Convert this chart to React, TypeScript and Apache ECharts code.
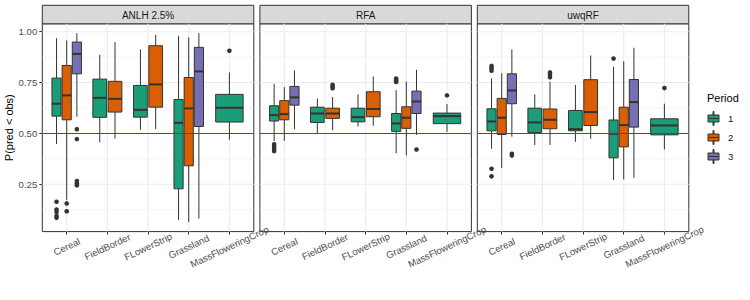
import React, { useEffect, useRef } from "react";
import * as echarts from "echarts";

const panels = ["ANLH 2.5%", "RFA", "uwqRF"];
const categories = ["Cereal", "FieldBorder", "FLowerStrip", "Grassland", "MassFloweringCrop"];
const periods = ["1", "2", "3"];
const periodColors = ["#1B9E77", "#D95F02", "#7570B3"];
const yMajorTicks = [0.25, 0.5, 0.75, 1.0];
const yMinorTicks = [0.125, 0.375, 0.625, 0.875];
const referenceLine = 0.5;

// [category, period, lower whisker, Q1, median, Q3, upper whisker]
const anlhBoxes: [string, string, number, number, number, number, number][] = [
  ["Cereal", "1", 0.448, 0.585, 0.646, 0.772, 0.968],
  ["Cereal", "2", 0.174, 0.567, 0.687, 0.834, 0.957],
  ["Cereal", "3", 0.582, 0.793, 0.891, 0.949, 0.993],
  ["FieldBorder", "1", 0.456, 0.579, 0.675, 0.767, 0.887],
  ["FieldBorder", "2", 0.474, 0.605, 0.67, 0.756, 0.949],
  ["FLowerStrip", "1", 0.518, 0.58, 0.616, 0.736, 0.913],
  ["FLowerStrip", "2", 0.521, 0.629, 0.741, 0.931, 0.985],
  ["Grassland", "1", 0.074, 0.228, 0.552, 0.667, 0.98],
  ["Grassland", "2", 0.064, 0.341, 0.623, 0.775, 0.972],
  ["Grassland", "3", 0.082, 0.534, 0.805, 0.923, 0.993],
  ["MassFloweringCrop", "1", 0.469, 0.556, 0.626, 0.692, 0.8],
];
const anlhOutliers: [string, string, number][] = [
  ["Cereal", "1", 0.164], ["Cereal", "1", 0.126], ["Cereal", "1", 0.114], ["Cereal", "1", 0.094], ["Cereal", "1", 0.085],
  ["Cereal", "2", 0.156], ["Cereal", "2", 0.117],
  ["Cereal", "3", 0.521], ["Cereal", "3", 0.472], ["Cereal", "3", 0.266], ["Cereal", "3", 0.255], ["Cereal", "3", 0.245],
  ["MassFloweringCrop", "1", 0.906],
];

const rfaBoxes: [string, string, number, number, number, number, number][] = [
  ["Cereal", "1", 0.462, 0.561, 0.59, 0.636, 0.744],
  ["Cereal", "2", 0.464, 0.567, 0.595, 0.661, 0.728],
  ["Cereal", "3", 0.521, 0.639, 0.677, 0.731, 0.81],
  ["FieldBorder", "1", 0.502, 0.554, 0.598, 0.629, 0.672],
  ["FieldBorder", "2", 0.516, 0.574, 0.598, 0.624, 0.679],
  ["FLowerStrip", "1", 0.534, 0.557, 0.58, 0.624, 0.692],
  ["FLowerStrip", "2", 0.538, 0.582, 0.62, 0.705, 0.78],
  ["Grassland", "1", 0.402, 0.51, 0.549, 0.598, 0.713],
  ["Grassland", "2", 0.392, 0.525, 0.577, 0.631, 0.755],
  ["Grassland", "3", 0.493, 0.598, 0.657, 0.708, 0.813],
  ["MassFloweringCrop", "1", 0.508, 0.548, 0.585, 0.6, 0.644],
];
const rfaOutliers: [string, string, number][] = [
  ["Cereal", "1", 0.447], ["Cereal", "1", 0.436], ["Cereal", "1", 0.425], ["Cereal", "1", 0.413],
  ["FieldBorder", "2", 0.739], ["FieldBorder", "2", 0.73], ["FieldBorder", "2", 0.722],
  ["Grassland", "1", 0.77], ["Grassland", "1", 0.761], ["Grassland", "1", 0.753],
  ["Grassland", "3", 0.421],
  ["MassFloweringCrop", "1", 0.687],
];

const uwqrfBoxes: [string, string, number, number, number, number, number][] = [
  ["Cereal", "1", 0.425, 0.513, 0.559, 0.621, 0.77],
  ["Cereal", "2", 0.33, 0.495, 0.577, 0.672, 0.796],
  ["Cereal", "3", 0.484, 0.646, 0.711, 0.793, 0.913],
  ["FieldBorder", "1", 0.443, 0.505, 0.554, 0.624, 0.692],
  ["FieldBorder", "2", 0.443, 0.523, 0.567, 0.62, 0.755],
  ["FLowerStrip", "1", 0.459, 0.513, 0.521, 0.613, 0.738],
  ["FLowerStrip", "2", 0.474, 0.539, 0.605, 0.764, 0.883],
  ["Grassland", "1", 0.271, 0.38, 0.498, 0.566, 0.828],
  ["Grassland", "2", 0.274, 0.434, 0.541, 0.629, 0.855],
  ["Grassland", "3", 0.282, 0.531, 0.654, 0.765, 0.921],
  ["MassFloweringCrop", "1", 0.421, 0.493, 0.539, 0.572, 0.646],
];
const uwqrfOutliers: [string, string, number][] = [
  ["Cereal", "1", 0.832], ["Cereal", "1", 0.82], ["Cereal", "1", 0.808], ["Cereal", "1", 0.326], ["Cereal", "1", 0.289],
  ["Cereal", "3", 0.4], ["Cereal", "3", 0.392],
  ["FieldBorder", "2", 0.8], ["FieldBorder", "2", 0.788], ["FieldBorder", "2", 0.776],
  ["Grassland", "1", 0.868],
  ["MassFloweringCrop", "1", 0.723],
];

const panelBoxes = [anlhBoxes, rfaBoxes, uwqrfBoxes];
const panelOutliers = [anlhOutliers, rfaOutliers, uwqrfOutliers];

// layout
const FONT = "'Liberation Sans', Arial, Helvetica, sans-serif";
const gridLefts = [42.3, 259.9, 477.3];
const gridWidth = 211.5;
const gridTop = 23.8;
const gridHeight = 207.8;
const stripTop = 5.3;
const xMin = 0.4;
const xMax = 5.6;
const yMin = 0.0175;
const yMax = 1.0388;
const dodgeWidth = 0.75;
const boxPadding = 0.9;
const INK = "#333333";
const RED = "#FF0000";

function dodge(boxes: any[], cat: string, period: string) {
  const present = boxes.filter((b) => b[0] === cat).map((b) => b[1]).sort();
  const n = present.length;
  const gi = present.indexOf(period);
  const ci = categories.indexOf(cat) + 1;
  const center = ci - dodgeWidth / 2 + (dodgeWidth * (gi + 0.5)) / n;
  const half = ((dodgeWidth / n) * boxPadding) / 2;
  return { center, half };
}

const legendIcon =
  "path://M5,0L6,0L6,3.5L5,3.5Z M0,3.5L11,3.5L11,7L0,7Z M0,7L11,7L11,10.5L0,10.5Z M5,10.5L6,10.5L6,14L5,14Z";

export default function App() {
  const ref = useRef<HTMLDivElement>(null);
  useEffect(() => {
    if (!ref.current) return;
    const chart = echarts.init(ref.current, undefined, { renderer: "svg" });

    const grids: any[] = [];
    const xAxes: any[] = [];
    const yAxes: any[] = [];
    const series: any[] = [];
    const graphics: any[] = [];

    panels.forEach((panel, p) => {
      grids.push({
        left: gridLefts[p],
        top: gridTop,
        width: gridWidth,
        height: gridHeight,
        show: true,
        backgroundColor: "#FFFFFF",
        borderColor: INK,
        borderWidth: 1,
        containLabel: false,
      });
      xAxes.push({
        type: "value",
        gridIndex: p,
        min: xMin,
        max: xMax,
        axisLine: { show: false },
        splitLine: { show: false },
        axisTick: {
          show: true,
          customValues: categories.map((_, i) => i + 1),
          length: 3,
          lineStyle: { color: INK, width: 1 },
        },
        axisLabel: {
          show: true,
          customValues: categories.map((_, i) => i + 1),
          formatter: (v: number) => categories[Math.round(v) - 1] ?? "",
          rotate: 25,
          align: "center",
          verticalAlign: "middle",
          margin: 15,
          fontSize: 9.6,
          color: "#4D4D4D",
          fontFamily: FONT,
        },
      });
      yAxes.push({
        type: "value",
        gridIndex: p,
        min: yMin,
        max: yMax,
        axisLine: { show: false },
        splitLine: { show: false },
        axisTick: {
          show: p === 0,
          customValues: yMajorTicks,
          length: 3,
          lineStyle: { color: INK, width: 1 },
        },
        axisLabel: {
          show: p === 0,
          customValues: yMajorTicks,
          formatter: (v: number) => v.toFixed(2),
          margin: 5,
          fontSize: 9.6,
          color: "#4D4D4D",
          fontFamily: FONT,
        },
        name: p === 0 ? "P(pred < obs)" : "",
        nameLocation: "middle",
        nameGap: 24,
        nameTextStyle: { fontSize: 11, color: "#000", fontFamily: FONT },
      });

      // panel grid lines
      const gridData: any[] = [];
      yMinorTicks.forEach((v) => gridData.push([0, v]));
      yMajorTicks.forEach((v) => gridData.push([1, v]));
      categories.forEach((_, i) => gridData.push([2, i + 1]));
      series.push({
        type: "custom",
        name: "grid" + p,
        xAxisIndex: p,
        yAxisIndex: p,
        silent: true,
        z: 1,
        data: gridData,
        renderItem: (params: any, api: any) => {
          const kind = api.value(0);
          const v = api.value(1);
          let a, b;
          if (kind === 2) {
            a = api.coord([v, yMin]);
            b = api.coord([v, yMax]);
          } else {
            a = api.coord([xMin, v]);
            b = api.coord([xMax, v]);
          }
          return {
            type: "line",
            shape: { x1: a[0], y1: a[1], x2: b[0], y2: b[1] },
            style: { stroke: "#EBEBEB", lineWidth: kind === 0 ? 0.55 : 1.1 },
          };
        },
      });

      // boxes per period
      const boxes = panelBoxes[p];
      periods.forEach((per, k) => {
        const rows = boxes.filter((b) => b[1] === per);
        const data = rows.map((b) => {
          const d = dodge(boxes, b[0], per);
          return [d.center, b[2], b[3], b[4], b[5], b[6], d.half];
        });
        series.push({
          type: "custom",
          name: per,
          xAxisIndex: p,
          yAxisIndex: p,
          silent: true,
          z: 2,
          itemStyle: { color: periodColors[k], borderColor: INK, borderWidth: 1 },
          encode: { x: 0, y: [1, 2, 3, 4, 5] },
          data,
          renderItem: (params: any, api: any) => {
            const cx = api.value(0);
            const half = api.value(6);
            const pLo = api.coord([cx, api.value(1)]);
            const pQ1 = api.coord([cx, api.value(2)]);
            const pMed = api.coord([cx, api.value(3)]);
            const pQ3 = api.coord([cx, api.value(4)]);
            const pHi = api.coord([cx, api.value(5)]);
            const left = api.coord([cx - half, 0.5])[0];
            const right = api.coord([cx + half, 0.5])[0];
            const fill = periodColors[k];
            return {
              type: "group",
              children: [
                { type: "line", shape: { x1: pHi[0], y1: pHi[1], x2: pQ3[0], y2: pQ3[1] }, style: { stroke: INK, lineWidth: 1 } },
                { type: "line", shape: { x1: pQ1[0], y1: pQ1[1], x2: pLo[0], y2: pLo[1] }, style: { stroke: INK, lineWidth: 1 } },
                {
                  type: "rect",
                  shape: { x: left, y: pQ3[1], width: right - left, height: pQ1[1] - pQ3[1] },
                  style: { fill, stroke: INK, lineWidth: 1 },
                },
                { type: "line", shape: { x1: left, y1: pMed[1], x2: right, y2: pMed[1] }, style: { stroke: INK, lineWidth: 2 } },
              ],
            };
          },
        });
      });

      // outliers
      const outs = panelOutliers[p].map((o) => {
        const d = dodge(boxes, o[0], o[1]);
        return [d.center, o[2]];
      });
      series.push({
        type: "scatter",
        name: "outliers" + p,
        xAxisIndex: p,
        yAxisIndex: p,
        silent: true,
        z: 3,
        symbol: "circle",
        symbolSize: 4.6,
        itemStyle: { color: INK, opacity: 1 },
        data: outs,
      });

      // reference line at P = 0.5
      series.push({
        type: "custom",
        name: "ref" + p,
        xAxisIndex: p,
        yAxisIndex: p,
        silent: true,
        z: 10,
        itemStyle: { color: RED },
        data: [[referenceLine]],
        renderItem: (params: any, api: any) => {
          const v = api.value(0);
          const a = api.coord([xMin, v]);
          const b = api.coord([xMax, v]);
          return {
            type: "line",
            shape: { x1: a[0], y1: a[1], x2: b[0], y2: b[1] },
            style: { stroke: RED, lineWidth: 1.1 },
          };
        },
      });

      // strip
      graphics.push({
        type: "rect",
        shape: { x: gridLefts[p], y: stripTop, width: gridWidth, height: gridTop - stripTop },
        style: { fill: "#D9D9D9", stroke: INK, lineWidth: 1 },
        silent: true,
      });
      graphics.push({
        type: "text",
        x: gridLefts[p] + gridWidth / 2,
        y: (stripTop + gridTop) / 2 + 0.5,
        style: {
          text: panel,
          align: "center",
          verticalAlign: "middle",
          fontSize: 10,
          fill: "#1A1A1A",
          fontFamily: FONT,
        },
        silent: true,
      });
    });

    graphics.push({
      type: "text",
      x: 707,
      y: 98,
      style: { text: "Period", align: "left", verticalAlign: "middle", fontSize: 11, fill: "#000", fontFamily: FONT },
      silent: true,
    });

    chart.setOption({
      animation: false,
      textStyle: { fontFamily: FONT },
      grid: grids,
      xAxis: xAxes,
      yAxis: yAxes,
      series,
      graphic: graphics,
      legend: {
        data: periods,
        orient: "vertical",
        left: 707.5,
        top: 111,
        padding: 0,
        itemWidth: 11,
        itemHeight: 14,
        itemGap: 4,
        icon: legendIcon,
        selectedMode: false,
        itemStyle: { borderColor: INK, borderWidth: 1 },
        textStyle: { fontSize: 9.6, color: "#1A1A1A", fontFamily: FONT, padding: [0, 0, 0, 4] },
      },
    });

    return () => chart.dispose();
  }, []);

  return (
    <div
      ref={ref}
      style={{ position: "absolute", left: 0, top: 0, width: 750, height: 300, background: "#fff" }}
    />
  );
}
